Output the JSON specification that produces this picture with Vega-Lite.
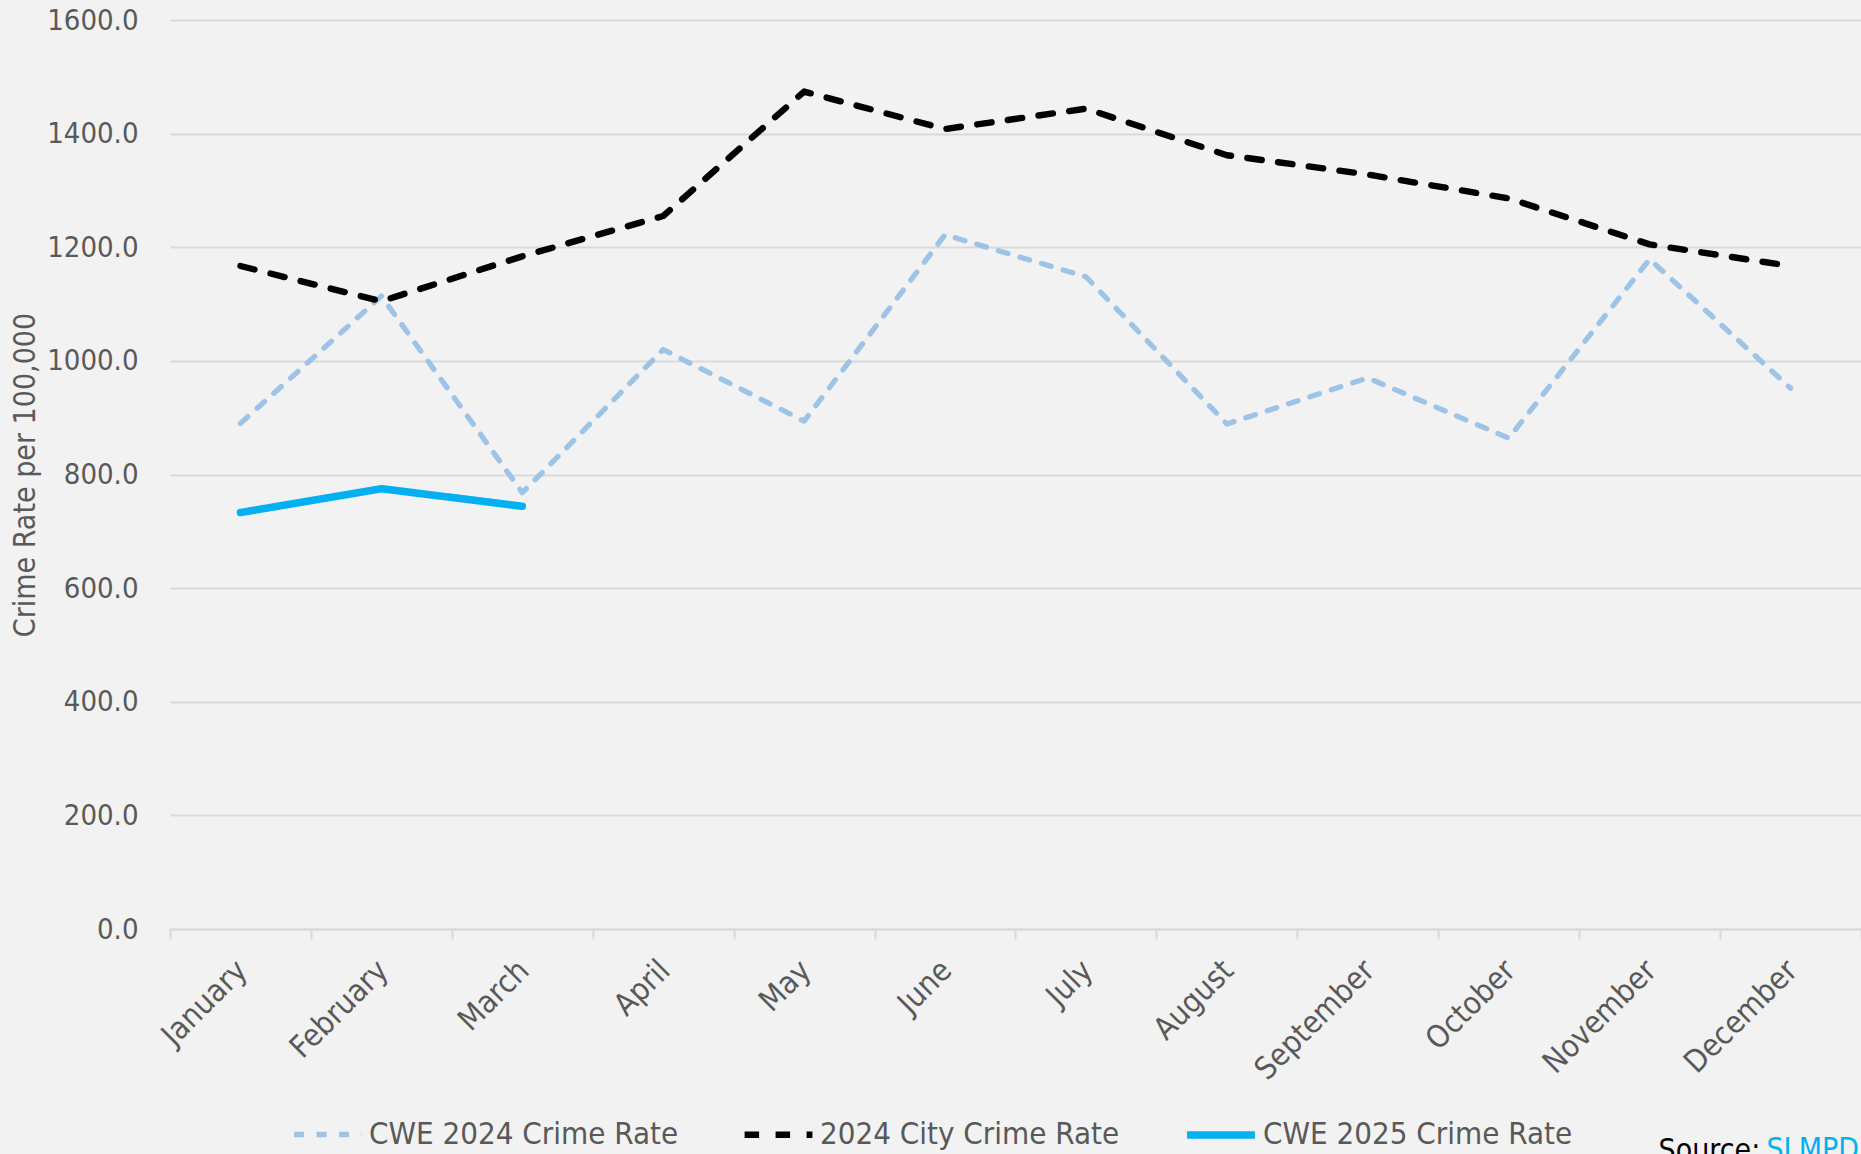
{
  "$schema": "https://vega.github.io/schema/vega-lite/v6.json",
  "width": 1691,
  "height": 909,
  "autosize": {"type": "none"},
  "padding": {"left": 170, "top": 20, "right": 0, "bottom": 225},
  "background": "#F2F2F2",
  "config": {
    "view": {"stroke": null},
    "font": "DejaVu Sans Condensed"
  },
  "title": {
    "text": "SLMPD",
    "orient": "bottom",
    "anchor": "end",
    "frame": "group",
    "font": "DejaVu Sans Condensed",
    "fontSize": 30,
    "fontWeight": "normal",
    "color": "#00B0F0",
    "offset": -30,
    "dx": -2
  },
  "data": {
    "values": [
      {"month": "January", "series": "CWE 2024 Crime Rate", "value": 890},
      {"month": "February", "series": "CWE 2024 Crime Rate", "value": 1114},
      {"month": "March", "series": "CWE 2024 Crime Rate", "value": 768},
      {"month": "April", "series": "CWE 2024 Crime Rate", "value": 1020},
      {"month": "May", "series": "CWE 2024 Crime Rate", "value": 894},
      {"month": "June", "series": "CWE 2024 Crime Rate", "value": 1222},
      {"month": "July", "series": "CWE 2024 Crime Rate", "value": 1148},
      {"month": "August", "series": "CWE 2024 Crime Rate", "value": 889},
      {"month": "September", "series": "CWE 2024 Crime Rate", "value": 970},
      {"month": "October", "series": "CWE 2024 Crime Rate", "value": 864},
      {"month": "November", "series": "CWE 2024 Crime Rate", "value": 1179},
      {"month": "December", "series": "CWE 2024 Crime Rate", "value": 952},
      {"month": "January", "series": "2024 City Crime Rate", "value": 1167},
      {"month": "February", "series": "2024 City Crime Rate", "value": 1105},
      {"month": "March", "series": "2024 City Crime Rate", "value": 1184},
      {"month": "April", "series": "2024 City Crime Rate", "value": 1255},
      {"month": "May", "series": "2024 City Crime Rate", "value": 1474},
      {"month": "June", "series": "2024 City Crime Rate", "value": 1408},
      {"month": "July", "series": "2024 City Crime Rate", "value": 1444},
      {"month": "August", "series": "2024 City Crime Rate", "value": 1362},
      {"month": "September", "series": "2024 City Crime Rate", "value": 1328},
      {"month": "October", "series": "2024 City Crime Rate", "value": 1286},
      {"month": "November", "series": "2024 City Crime Rate", "value": 1205},
      {"month": "December", "series": "2024 City Crime Rate", "value": 1167},
      {"month": "January", "series": "CWE 2025 Crime Rate", "value": 733},
      {"month": "February", "series": "CWE 2025 Crime Rate", "value": 775},
      {"month": "March", "series": "CWE 2025 Crime Rate", "value": 744}
    ]
  },
  "mark": {"type": "line", "strokeCap": "round", "strokeJoin": "round"},
  "encoding": {
    "x": {
      "field": "month",
      "type": "ordinal",
      "bandPosition": 0.5,
      "sort": ["January", "February", "March", "April", "May", "June", "July", "August", "September", "October", "November", "December"],
      "scale": {"type": "band", "paddingInner": 0, "paddingOuter": 0},
      "axis": {
        "title": "Source:",
        "titleFont": "DejaVu Sans Condensed",
        "titleFontSize": 30,
        "titleFontWeight": "normal",
        "titleColor": "#000000",
        "titleAlign": "left",
        "titleBaseline": "top",
        "titleX": 1488,
        "titleY": 206,
        "tickBand": "extent",
        "labelAngle": -45,
        "labelFont": "DejaVu Sans Condensed",
        "labelFontSize": 31,
        "labelColor": "#595959",
        "labelPadding": 16,
        "labelOffset": -9,
        "domainColor": "#D9D9D9",
        "domainWidth": 2,
        "tickColor": "#D9D9D9",
        "tickWidth": 2,
        "tickSize": 10,
        "grid": false
      }
    },
    "y": {
      "field": "value",
      "type": "quantitative",
      "scale": {"domain": [0, 1600], "nice": false},
      "axis": {
        "title": "Crime Rate per 100,000",
        "titleFont": "DejaVu Sans Condensed",
        "titleFontSize": 30,
        "titleFontWeight": "normal",
        "titleColor": "#595959",
        "titlePadding": 6,
        "values": [0, 200, 400, 600, 800, 1000, 1200, 1400, 1600],
        "format": ".1f",
        "labelFont": "DejaVu Sans Condensed",
        "labelFontSize": 29,
        "labelColor": "#595959",
        "labelPadding": 32,
        "domain": false,
        "ticks": false,
        "grid": true,
        "gridColor": "#D9D9D9",
        "gridWidth": 2
      }
    },
    "color": {
      "field": "series",
      "type": "nominal",
      "scale": {
        "domain": ["CWE 2024 Crime Rate", "2024 City Crime Rate", "CWE 2025 Crime Rate"],
        "range": ["#9DC3E6", "#000000", "#00B0F0"]
      },
      "legend": {
        "title": null,
        "orient": "none",
        "direction": "horizontal",
        "legendX": 121,
        "legendY": 1077,
        "symbolType": "stroke",
        "symbolSize": 4600,
        "labelFont": "DejaVu Sans Condensed",
        "labelFontSize": 31,
        "labelColor": "#595959",
        "labelOffset": 4,
        "columnPadding": 52,
        "labelLimit": 400
      }
    },
    "strokeDash": {
      "field": "series",
      "type": "nominal",
      "scale": {
        "domain": ["CWE 2024 Crime Rate", "2024 City Crime Rate", "CWE 2025 Crime Rate"],
        "range": [[10, 12.5], [14.5, 16.5], [1, 0]]
      },
      "legend": null
    },
    "strokeWidth": {
      "field": "series",
      "type": "nominal",
      "scale": {
        "domain": ["CWE 2024 Crime Rate", "2024 City Crime Rate", "CWE 2025 Crime Rate"],
        "range": [5.3, 7.5, 5.3]
      },
      "legend": null
    }
  }
}
